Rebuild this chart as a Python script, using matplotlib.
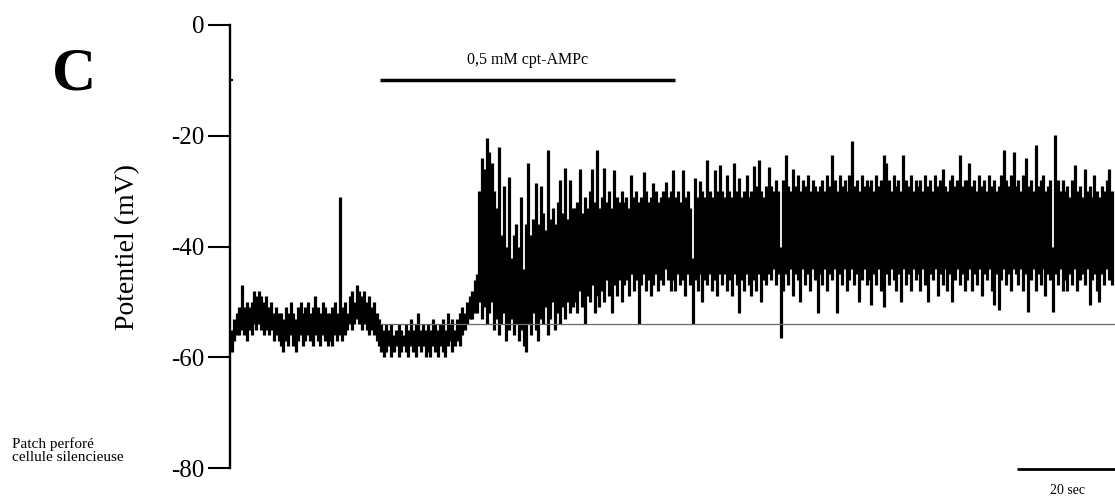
import numpy as np
import matplotlib
matplotlib.use("Agg")
from matplotlib import pyplot as plt

plt.rcParams['font.family'] = ['Liberation Serif', 'DejaVu Serif']
plt.rcParams['axes.unicode_minus'] = False

# membrane potential (mV): max and min of the recording in each 0.5 s bin
dt = 0.5

# resting period, 0 - 50 s
repos_haut = [
    -55, -53, -52, -51, -47, -51, -50, -51, -50, -48, -49, -48, -49, -50, -49, -51, -50, -52, -51, -52,
    -52, -53, -51, -52, -50, -52, -53, -51, -50, -52, -51, -50, -52, -51, -49, -51, -52, -50, -51, -52,
    -52, -51, -50, -52, -31, -51, -50, -52, -49, -48, -50, -47, -48, -49, -48, -50, -49, -51, -50, -52,
    -53, -54, -55, -54, -55, -54, -56, -55, -54, -55, -56, -54, -55, -53, -55, -54, -52, -55, -54, -55,
    -54, -55, -53, -54, -55, -54, -53, -55, -52, -54, -53, -55, -53, -52, -51, -52, -50, -49, -48, -46,
]
repos_bas = [
    -59, -57, -56, -56, -55, -56, -57, -55, -56, -54, -55, -54, -55, -56, -55, -56, -55, -57, -56, -57,
    -58, -59, -57, -58, -56, -58, -59, -57, -56, -58, -57, -56, -57, -58, -56, -57, -58, -56, -57, -58,
    -57, -58, -56, -57, -56, -57, -56, -55, -54, -55, -54, -53, -54, -55, -54, -55, -56, -55, -56, -57,
    -58, -59, -60, -59, -58, -60, -59, -58, -60, -59, -58, -59, -60, -58, -59, -60, -58, -59, -58, -60,
    -59, -60, -58, -59, -60, -58, -59, -60, -58, -57, -59, -58, -57, -58, -56, -55, -54, -53, -53, -52,
]

# firing period, 50 - 180 s
decharge_haut = [
    -45, -30, -24, -26, -20.4, -23, -25, -30, -33, -22, -38, -29, -40, -27.5, -42, -38, -36, -40, -31, -44,
    -36, -25, -38, -35, -28.5, -36, -29, -34, -37, -22.6, -35, -33, -36, -32, -28, -34, -25.8, -35, -28, -33,
    -33, -32, -26, -34, -31, -33, -30, -26, -32, -22.6, -33, -31, -25.8, -32, -30, -33, -26.2, -31, -32, -30,
    -32, -31, -33, -27, -31, -30, -32, -31, -26.5, -30, -32, -31, -28.5, -30, -32, -31, -30, -28.4, -31, -30,
    -26.2, -31, -30, -32, -26.2, -31, -30, -33, -42, -27.6, -31, -28.2, -30, -31, -24.4, -30, -31, -26.2, -30, -25.3,
    -30, -31, -27, -30, -31, -25, -30, -27.6, -31, -30, -27, -31, -30, -25.5, -29, -24.4, -30, -31, -29, -25.6,
    -29, -30, -28, -30, -40, -28, -23.5, -29, -30, -26, -29, -27, -30, -28, -29, -27, -30, -28, -29, -30,
    -29, -28, -30, -27, -29, -23.5, -28, -30, -27, -29, -28, -30, -27, -21, -29, -28, -30, -27, -29, -28,
    -29, -28, -30, -27, -29, -28, -23.5, -25, -28, -30, -27, -29, -28, -30, -23.5, -28, -29, -27, -30, -28,
    -29, -28, -30, -27, -29, -28, -30, -27, -29, -28, -26, -29, -30, -28, -27, -29, -28, -23.5, -29, -28,
    -28, -25, -29, -28, -30, -27, -29, -28, -30, -27, -29, -28, -30, -29, -27, -22.6, -28, -29, -27, -23,
    -29, -28, -30, -27, -24, -29, -28, -30, -21.7, -29, -28, -27, -30, -29, -28, -40, -19.9, -28, -30, -28,
    -30, -29, -31, -28, -25.3, -30, -29, -31, -26, -30, -29, -31, -27, -30, -31, -29, -30, -28, -26, -30,
]
decharge_bas = [
    -52, -50, -53, -51, -54, -52, -50, -55, -53, -56, -54, -52, -57, -55, -53, -56, -54, -57, -55, -58,
    -59, -54, -56, -52, -55, -57, -53, -54, -51, -56, -53, -50, -55, -52, -54, -51, -53, -50, -52, -51,
    -50, -52, -48, -51, -54, -49, -50, -47, -52, -49, -51, -48, -50, -46, -49, -52, -47, -49, -46, -50,
    -47, -46, -49, -45, -48, -46, -54, -47, -45, -48, -46, -49, -47, -45, -48, -46, -47, -44, -46, -48,
    -46, -48, -45, -47, -46, -49, -45, -47, -54, -46, -48, -45, -50, -46, -47, -45, -48, -46, -49, -45,
    -47, -45, -48, -46, -49, -45, -47, -52, -46, -48, -45, -47, -49, -46, -48, -45, -50, -46, -47, -45,
    -46, -44, -47, -45, -56.6, -48, -45, -47, -44, -49, -45, -46, -50, -44, -47, -45, -48, -44, -46, -52,
    -45, -47, -44, -48, -45, -46, -44, -52, -45, -47, -44, -48, -46, -44, -47, -45, -50, -46, -44, -47,
    -46, -50.6, -45, -47, -44, -48, -51, -45, -47, -44, -46, -48, -45, -50, -44, -47, -45, -48, -44, -46,
    -45, -48, -44, -47, -50, -45, -46, -44, -49, -45, -47, -44, -48, -45, -50, -46, -44, -47, -45, -48,
    -46, -44, -48, -45, -47, -44, -49, -45, -46, -44, -48, -50.6, -45, -51.5, -46, -44, -47, -45, -48, -44,
    -45, -47, -44, -48, -45, -51.8, -46, -44, -48, -45, -47, -44, -49, -45, -46, -51.8, -45, -47, -44, -48,
    -46, -48, -45, -47, -44, -48, -46, -45, -47, -44, -50.6, -46, -45, -48, -50, -45, -47, -44, -46, -47,
]
v_repos = -54          # resting level reference
drogue_debut, drogue_fin = 30.2, 90.4
drogue_label = "0,5 mM cpt-AMPc"
echelle_sec = 20

haut = np.array(repos_haut + decharge_haut, dtype=float)
bas = np.array(repos_bas + decharge_bas, dtype=float)
t = np.arange(len(haut)) * dt

fig = plt.figure(figsize=(11.15, 4.98), dpi=100)
ax = fig.add_axes([0.2063, 0.0602, 0.7937, 0.8896])

ax.vlines(t, bas, haut, color='black', lw=2.3, capstyle='butt', zorder=2)
ax.hlines(v_repos, drogue_debut, t[-1] + 1, color='#6a6a6a', lw=0.9, zorder=3)

ax.set_xlim(-0.4, 180.2)
ax.set_ylim(-80, 0)

for s in ['top', 'right', 'bottom']:
    ax.spines[s].set_visible(False)
ax.spines['left'].set_linewidth(1.7)
ax.spines['left'].set_bounds(-80, 0)
ax.set_xticks([])
ax.set_yticks([0, -20, -40, -60, -80])
ax.set_yticks([-10], minor=True)
ax.tick_params(axis='y', which='major', direction='out', length=15.5, width=1.5,
               labelsize=18, pad=3)
ax.tick_params(axis='y', which='minor', direction='in', length=2, width=1.5)
ax.set_ylabel("Potentiel (mV)", fontsize=20, labelpad=22)

# drug application bar
ax.hlines(-10, drogue_debut, drogue_fin, color='black', lw=2.5, clip_on=False)
ax.text((drogue_debut + drogue_fin) / 2, -6.3, drogue_label, fontsize=11.5,
        ha='center', va='center')

# time scale bar
ax.hlines(-80.2, 180.2 - echelle_sec, 180.2, color='black', lw=2, clip_on=False)
ax.text(170.6, -84, "20 sec", fontsize=10, ha='center', va='center', clip_on=False)

fig.text(74 / 1115, 1 - 75 / 498, "C", fontsize=44, fontweight='bold',
         ha='center', va='center')
fig.text(12 / 1115, 1 - 451 / 498, "Patch perforé\ncellule silencieuse",
         fontsize=11, ha='left', va='center', linespacing=1.0)

fig.savefig("out.png", dpi=100)
